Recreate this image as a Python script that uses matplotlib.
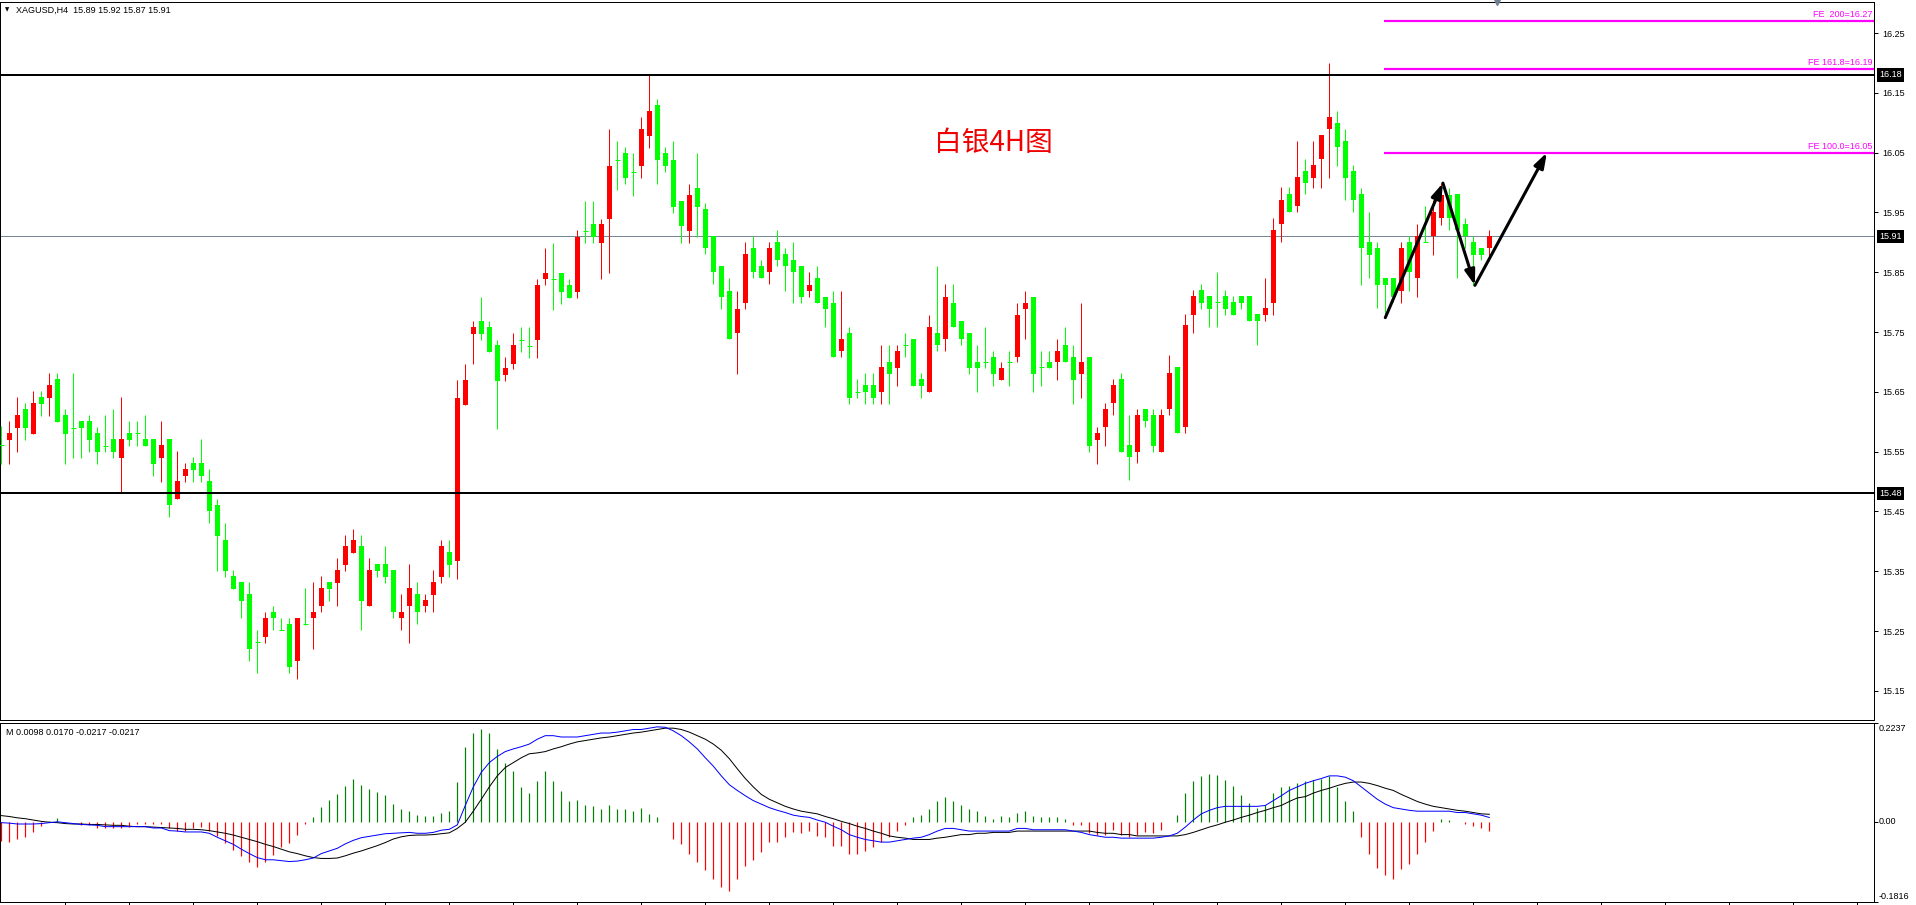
import matplotlib
matplotlib.use('Agg')
import matplotlib.pyplot as plt
import matplotlib.transforms as mtransforms
import numpy as np

# ---------------- data ----------------
opens = [15.561, 15.570, 15.590, 15.621, 15.580, 15.641, 15.640, 15.671, 15.611, 15.590,
         15.601, 15.601, 15.581, 15.560, 15.571, 15.540, 15.581, 15.581, 15.571, 15.571,
         15.540, 15.571, 15.470, 15.510, 15.531, 15.531, 15.501, 15.461, 15.402, 15.342,
         15.332, 15.312, 15.231, 15.240, 15.282, 15.251, 15.262, 15.200, 15.262, 15.271,
         15.291, 15.332, 15.331, 15.361, 15.381, 15.392, 15.291, 15.362, 15.362, 15.352,
         15.271, 15.291, 15.312, 15.291, 15.311, 15.341, 15.382, 15.367, 15.628, 15.747,
         15.768, 15.758, 15.728, 15.678, 15.696, 15.737, 15.727, 15.737, 15.838, 15.838,
         15.849, 15.829, 15.817, 15.919, 15.930, 15.898, 15.939, 16.038, 16.049, 16.018,
         16.027, 16.078, 16.130, 16.049, 16.038, 15.969, 15.919, 15.990, 15.955, 15.911,
         15.860, 15.819, 15.749, 15.799, 15.890, 15.860, 15.850, 15.900, 15.880, 15.870,
         15.860, 15.819, 15.840, 15.809, 15.799, 15.719, 15.749, 15.650, 15.661, 15.661,
         15.650, 15.699, 15.690, 15.729, 15.739, 15.671, 15.650, 15.749, 15.739, 15.799,
         15.769, 15.749, 15.699, 15.699, 15.709, 15.670, 15.699, 15.709, 15.789, 15.809,
         15.691, 15.699, 15.699, 15.729, 15.709, 15.680, 15.709, 15.570, 15.591, 15.631,
         15.672, 15.561, 15.550, 15.622, 15.612, 15.550, 15.621, 15.692, 15.591, 15.779,
         15.821, 15.811, 15.800, 15.811, 15.800, 15.811, 15.811, 15.780, 15.779, 15.799,
         15.930, 15.981, 15.960, 16.019, 16.008, 16.039, 16.089, 16.099, 16.070, 16.019,
         15.981, 15.900, 15.890, 15.840, 15.840, 15.819, 15.900, 15.840, 15.900, 15.910,
         15.940, 15.979, 15.981, 15.930, 15.900, 15.890, 15.890]
highs = [15.592, 15.601, 15.641, 15.631, 15.651, 15.651, 15.681, 15.681, 15.621, 15.681,
         15.601, 15.611, 15.591, 15.611, 15.621, 15.641, 15.601, 15.601, 15.611, 15.571,
         15.601, 15.571, 15.551, 15.531, 15.541, 15.571, 15.521, 15.471, 15.430, 15.352,
         15.332, 15.332, 15.252, 15.282, 15.292, 15.272, 15.272, 15.272, 15.322, 15.332,
         15.342, 15.332, 15.372, 15.410, 15.420, 15.410, 15.372, 15.362, 15.392, 15.352,
         15.312, 15.362, 15.332, 15.312, 15.352, 15.402, 15.402, 15.670, 15.697, 15.768,
         15.809, 15.768, 15.737, 15.709, 15.748, 15.758, 15.758, 15.839, 15.890, 15.899,
         15.849, 15.839, 15.920, 15.969, 15.969, 15.939, 16.089, 16.069, 16.059, 16.049,
         16.109, 16.180, 16.140, 16.059, 16.069, 15.969, 15.998, 16.049, 15.965, 15.911,
         15.860, 15.840, 15.819, 15.900, 15.910, 15.870, 15.900, 15.920, 15.890, 15.900,
         15.860, 15.850, 15.860, 15.809, 15.819, 15.819, 15.759, 15.671, 15.681, 15.681,
         15.729, 15.729, 15.729, 15.749, 15.739, 15.681, 15.779, 15.860, 15.830, 15.830,
         15.769, 15.749, 15.729, 15.759, 15.719, 15.699, 15.719, 15.799, 15.819, 15.809,
         15.719, 15.719, 15.739, 15.759, 15.729, 15.799, 15.709, 15.591, 15.631, 15.672,
         15.682, 15.612, 15.622, 15.622, 15.622, 15.622, 15.711, 15.692, 15.780, 15.821,
         15.830, 15.811, 15.851, 15.821, 15.811, 15.811, 15.811, 15.780, 15.841, 15.941,
         15.992, 15.992, 16.070, 16.040, 16.070, 16.080, 16.199, 16.120, 16.090, 16.030,
         15.990, 15.951, 15.900, 15.840, 15.840, 15.900, 15.910, 15.930, 15.961, 15.970,
         15.999, 15.990, 15.981, 15.940, 15.910, 15.890, 15.920]
lows = [15.530, 15.530, 15.550, 15.570, 15.580, 15.610, 15.610, 15.600, 15.530, 15.540,
        15.540, 15.550, 15.530, 15.550, 15.540, 15.480, 15.560, 15.560, 15.560, 15.510,
        15.500, 15.440, 15.470, 15.500, 15.500, 15.500, 15.430, 15.351, 15.341, 15.321,
        15.271, 15.200, 15.180, 15.230, 15.251, 15.251, 15.180, 15.170, 15.260, 15.220,
        15.281, 15.301, 15.291, 15.351, 15.381, 15.251, 15.291, 15.341, 15.331, 15.271,
        15.251, 15.230, 15.261, 15.281, 15.281, 15.331, 15.341, 15.337, 15.628, 15.696,
        15.737, 15.716, 15.587, 15.668, 15.688, 15.716, 15.707, 15.707, 15.828, 15.787,
        15.797, 15.807, 15.807, 15.898, 15.898, 15.838, 15.848, 15.988, 15.998, 15.978,
        16.007, 16.057, 15.998, 16.018, 15.949, 15.898, 15.898, 15.909, 15.880, 15.830,
        15.789, 15.739, 15.680, 15.789, 15.840, 15.840, 15.830, 15.860, 15.819, 15.799,
        15.799, 15.809, 15.799, 15.759, 15.709, 15.709, 15.630, 15.640, 15.630, 15.630,
        15.630, 15.630, 15.660, 15.709, 15.660, 15.640, 15.650, 15.719, 15.719, 15.759,
        15.729, 15.680, 15.650, 15.690, 15.660, 15.670, 15.660, 15.699, 15.739, 15.650,
        15.660, 15.690, 15.670, 15.699, 15.630, 15.640, 15.550, 15.530, 15.560, 15.611,
        15.550, 15.503, 15.531, 15.591, 15.550, 15.550, 15.611, 15.581, 15.581, 15.749,
        15.789, 15.759, 15.759, 15.779, 15.779, 15.789, 15.769, 15.729, 15.769, 15.779,
        15.900, 15.950, 15.950, 15.980, 15.990, 15.990, 16.008, 16.028, 15.971, 15.950,
        15.829, 15.840, 15.790, 15.779, 15.800, 15.799, 15.819, 15.809, 15.900, 15.879,
        15.929, 15.920, 15.840, 15.890, 15.829, 15.870, 15.870]
closes = [15.561, 15.581, 15.611, 15.590, 15.631, 15.630, 15.661, 15.600, 15.580, 15.590,
          15.590, 15.570, 15.550, 15.560, 15.550, 15.571, 15.570, 15.581, 15.560, 15.530,
          15.561, 15.460, 15.501, 15.521, 15.520, 15.510, 15.450, 15.409, 15.351, 15.321,
          15.301, 15.220, 15.231, 15.272, 15.271, 15.251, 15.190, 15.272, 15.262, 15.282,
          15.322, 15.321, 15.352, 15.392, 15.402, 15.301, 15.352, 15.351, 15.341, 15.281,
          15.282, 15.322, 15.281, 15.302, 15.332, 15.392, 15.361, 15.639, 15.669, 15.758,
          15.747, 15.716, 15.668, 15.690, 15.728, 15.737, 15.727, 15.829, 15.849, 15.838,
          15.817, 15.807, 15.909, 15.919, 15.909, 15.930, 16.028, 16.038, 16.007, 16.018,
          16.089, 16.119, 16.038, 16.027, 15.959, 15.928, 15.979, 15.959, 15.890, 15.850,
          15.809, 15.739, 15.789, 15.880, 15.850, 15.840, 15.890, 15.870, 15.860, 15.850,
          15.809, 15.829, 15.799, 15.789, 15.709, 15.739, 15.640, 15.650, 15.650, 15.640,
          15.691, 15.680, 15.719, 15.729, 15.660, 15.660, 15.759, 15.729, 15.809, 15.759,
          15.739, 15.690, 15.690, 15.699, 15.680, 15.690, 15.699, 15.779, 15.799, 15.680,
          15.691, 15.690, 15.719, 15.699, 15.670, 15.699, 15.560, 15.581, 15.622, 15.662,
          15.550, 15.541, 15.612, 15.601, 15.560, 15.612, 15.682, 15.581, 15.761, 15.811,
          15.799, 15.789, 15.800, 15.789, 15.779, 15.799, 15.769, 15.769, 15.790, 15.921,
          15.971, 15.950, 16.010, 15.999, 16.030, 16.080, 16.109, 16.059, 16.008, 15.970,
          15.890, 15.879, 15.829, 15.829, 15.809, 15.890, 15.850, 15.911, 15.900, 15.951,
          15.979, 15.940, 15.921, 15.910, 15.879, 15.879, 15.910]

# MACD indicator values
macd_blue = [-0.002, -0.003, -0.005, -0.005, -0.005, -0.004, -0.002, 0.000, -0.002, -0.004,
             -0.006, -0.007, -0.008, -0.011, -0.011, -0.011, -0.011, -0.011, -0.011, -0.014,
             -0.014, -0.020, -0.021, -0.023, -0.023, -0.023, -0.026, -0.035, -0.043, -0.051,
             -0.062, -0.072, -0.081, -0.086, -0.086, -0.088, -0.090, -0.089, -0.086, -0.082,
             -0.072, -0.066, -0.060, -0.050, -0.042, -0.036, -0.033, -0.030, -0.027, -0.026,
             -0.025, -0.024, -0.026, -0.026, -0.024, -0.019, -0.017, -0.007, 0.037, 0.079,
             0.112, 0.134, 0.148, 0.159, 0.165, 0.170, 0.176, 0.187, 0.195, 0.195,
             0.192, 0.192, 0.192, 0.195, 0.198, 0.201, 0.201, 0.203, 0.206, 0.209,
             0.209, 0.212, 0.215, 0.214, 0.206, 0.195, 0.181, 0.165, 0.145, 0.126,
             0.104, 0.084, 0.071, 0.059, 0.048, 0.040, 0.032, 0.026, 0.021, 0.015,
             0.012, 0.010, 0.004, -0.001, -0.010, -0.018, -0.029, -0.035, -0.040, -0.043,
             -0.046, -0.046, -0.043, -0.040, -0.037, -0.035, -0.029, -0.021, -0.015, -0.015,
             -0.018, -0.021, -0.021, -0.021, -0.021, -0.021, -0.021, -0.015, -0.015, -0.018,
             -0.018, -0.018, -0.018, -0.018, -0.021, -0.024, -0.029, -0.032, -0.035, -0.035,
             -0.037, -0.037, -0.037, -0.037, -0.037, -0.035, -0.032, -0.026, -0.012, 0.004,
             0.018, 0.026, 0.032, 0.035, 0.035, 0.035, 0.035, 0.035, 0.037, 0.048,
             0.059, 0.071, 0.079, 0.087, 0.093, 0.098, 0.104, 0.104, 0.101, 0.093,
             0.079, 0.065, 0.051, 0.040, 0.032, 0.029, 0.026, 0.024, 0.024, 0.024,
             0.024, 0.024, 0.021, 0.021, 0.018, 0.015, 0.0098]
macd_black = [0.014, 0.012, 0.009, 0.007, 0.004, 0.001, -0.001, -0.002, -0.004, -0.005,
              -0.005, -0.006, -0.006, -0.007, -0.008, -0.008, -0.010, -0.011, -0.011, -0.012,
              -0.013, -0.014, -0.015, -0.017, -0.017, -0.018, -0.020, -0.023, -0.026, -0.030,
              -0.035, -0.040, -0.045, -0.051, -0.056, -0.062, -0.068, -0.072, -0.077, -0.081,
              -0.083, -0.083, -0.082, -0.077, -0.071, -0.066, -0.060, -0.054, -0.047, -0.039,
              -0.034, -0.031, -0.030, -0.030, -0.029, -0.027, -0.025, -0.015, -0.001, 0.024,
              0.051, 0.079, 0.104, 0.123, 0.134, 0.145, 0.154, 0.156, 0.159, 0.165,
              0.170, 0.176, 0.181, 0.184, 0.187, 0.190, 0.192, 0.195, 0.198, 0.201,
              0.203, 0.206, 0.209, 0.212, 0.212, 0.209, 0.203, 0.195, 0.187, 0.176,
              0.162, 0.143, 0.120, 0.098, 0.079, 0.062, 0.051, 0.043, 0.035, 0.029,
              0.024, 0.021, 0.018, 0.012, 0.007, 0.001, -0.004, -0.010, -0.015, -0.021,
              -0.026, -0.032, -0.035, -0.037, -0.040, -0.040, -0.040, -0.037, -0.035, -0.032,
              -0.029, -0.029, -0.026, -0.026, -0.024, -0.024, -0.024, -0.021, -0.021, -0.021,
              -0.021, -0.021, -0.021, -0.021, -0.021, -0.021, -0.021, -0.024, -0.026, -0.026,
              -0.029, -0.029, -0.032, -0.032, -0.032, -0.032, -0.032, -0.032, -0.029, -0.024,
              -0.018, -0.012, -0.007, -0.001, 0.004, 0.010, 0.015, 0.021, 0.026, 0.032,
              0.037, 0.046, 0.054, 0.057, 0.065, 0.071, 0.076, 0.082, 0.087, 0.090,
              0.090, 0.087, 0.082, 0.076, 0.071, 0.062, 0.054, 0.046, 0.040, 0.035,
              0.032, 0.029, 0.026, 0.024, 0.021, 0.018, 0.017]
macd_hist = [-0.043, -0.045, -0.0385, -0.034, -0.0227, -0.009, 0.001, 0.008, 0.000, 0.000,
             -0.007, -0.008, -0.015, -0.015, -0.015, -0.013, -0.011, -0.004, -0.004, -0.006,
             -0.006, -0.015, -0.020, -0.020, -0.015, -0.011, -0.020, -0.033, -0.047, -0.063,
             -0.077, -0.091, -0.102, -0.092, -0.075, -0.056, -0.048, -0.030, -0.005, 0.011,
             0.033, 0.050, 0.063, 0.081, 0.097, 0.083, 0.074, 0.067, 0.060, 0.040,
             0.030, 0.025, 0.015, 0.012, 0.013, 0.020, 0.025, 0.090, 0.170, 0.200,
             0.210, 0.200, 0.165, 0.134, 0.115, 0.079, 0.065, 0.093, 0.115, 0.093,
             0.070, 0.048, 0.050, 0.037, 0.035, 0.030, 0.037, 0.029, 0.029, 0.024,
             0.032, 0.018, 0.010, 0.000, -0.040, -0.050, -0.073, -0.090, -0.110, -0.130,
             -0.148, -0.156, -0.129, -0.100, -0.087, -0.068, -0.046, -0.046, -0.035, -0.024,
             -0.026, -0.021, -0.032, -0.035, -0.054, -0.054, -0.073, -0.073, -0.065, -0.057,
             -0.046, -0.035, -0.021, -0.007, 0.010, 0.015, 0.030, 0.046, 0.057, 0.048,
             0.037, 0.029, 0.024, 0.012, 0.007, 0.012, 0.010, 0.021, 0.024, 0.012,
             0.010, 0.010, 0.010, 0.007, -0.007, -0.007, -0.026, -0.029, -0.029, -0.018,
             -0.029, -0.035, -0.029, -0.024, -0.026, -0.018, 0.000, 0.015, 0.065, 0.093,
             0.104, 0.109, 0.107, 0.095, 0.082, 0.060, 0.043, 0.032, 0.037, 0.065,
             0.079, 0.082, 0.087, 0.093, 0.095, 0.098, 0.104, 0.079, 0.048, 0.024,
             -0.035, -0.073, -0.104, -0.120, -0.129, -0.107, -0.095, -0.073, -0.046, -0.021,
             0.007, 0.004, 0.000, -0.004, -0.010, -0.015, -0.0217]

price_ticks = [15.15, 15.25, 15.35, 15.45, 15.55, 15.65, 15.75, 15.85, 15.95, 16.05, 16.15, 16.25]
support_resistance = [16.18, 15.48]
current_price = 15.91
fe_levels = [16.27, 16.19, 16.05]
fe_labels = ['FE  200=16.27', 'FE 161.8=16.19', 'FE 100.0=16.05']
fe_start_bar = 172.8
arrow_path = [(173.0, 15.774), (180.2, 15.999), (184.2, 15.828), (193.2, 16.050)]
macd_range = (-0.1816, 0.2237)
macd_tick_labels = ['0.2237', '0.00', '-0.1816']
header = 'XAGUSD,H4  15.89 15.92 15.87 15.91'
macd_header = 'M 0.0098 0.0170 -0.0217 -0.0217'
title_cn = '白银4H图'

# ---------------- figure ----------------
W, H = 1916, 905
fig = plt.figure(figsize=(W / 100, H / 100), dpi=100)
fig.patch.set_facecolor('white')
plt.rcParams['font.family'] = ['Liberation Sans', 'DejaVu Sans']

def fx(px):
    return px / W

def fy(py):
    return 1 - py / H

PX = 0.72  # one pixel in points
RIGHT = 1874
ax = fig.add_axes([0, fy(720), fx(RIGHT), (720 - 2) / H])
axm = fig.add_axes([0, fy(902), fx(RIGHT), (902 - 723) / H])

def px_to_bar(px):
    return (px - 1.3) / 8.0

xlim = (px_to_bar(0), px_to_bar(RIGHT))
ax.set_xlim(*xlim)
axm.set_xlim(*xlim)
ax.set_ylim(16.25 - (720 - 33) / 598.0, 16.25 + (33 - 2) / 598.0)
axm.set_ylim(*macd_range)

RED = '#FF0000'
GREEN = '#00FF00'

o = np.array(opens); h = np.array(highs); l = np.array(lows); c = np.array(closes)
idx = np.arange(len(o))
bull = c > o
cols = np.where(bull, RED, GREEN)
ax.vlines(idx, l, h, colors=cols, lw=PX, zorder=3)
bot = np.minimum(o, c)
bh = np.abs(c - o)
ax.bar(idx, bh, bottom=bot, width=0.625, color=cols, linewidth=0, zorder=4)
doji = bh < 0.003
ax.hlines(o[doji], idx[doji] - 0.35, idx[doji] + 0.35, colors=cols[doji], lw=PX, zorder=4)

for lev in support_resistance:
    ax.axhline(lev, color='black', lw=2 * PX, zorder=5)
ax.axhline(current_price, color='#778899', lw=PX, zorder=2)

xr = xlim[1]
for lev, lab in zip(fe_levels, fe_labels):
    ax.hlines(lev, fe_start_bar, xr, colors='#FF00FF', lw=2.2 * PX, zorder=5)
    ax.annotate(lab, xy=(xr, lev), xytext=(-1, 1.5), textcoords='offset points',
                ha='right', va='bottom', color='#FF00FF', fontsize=6.5)

for (x0, y0), (x1, y1) in zip(arrow_path[:-1], arrow_path[1:]):
    ax.annotate('', xy=(x1, y1), xytext=(x0, y0),
                arrowprops=dict(arrowstyle='-|>,head_length=0.9,head_width=0.3',
                                color='black', lw=2.2, shrinkA=0, shrinkB=0),
                zorder=6)

# right price axis
ax.yaxis.tick_right()
ax.set_yticks(price_ticks)
ax.set_yticklabels(['%.2f' % t for t in price_ticks])
ax.tick_params(axis='y', direction='out', length=3, width=PX, pad=3, labelsize=6.5,
               colors='black')
ax.set_xticks([])
for s in ax.spines.values():
    s.set_linewidth(PX)

trans = mtransforms.blended_transform_factory(ax.transAxes, ax.transData)
for lev in support_resistance + [current_price]:
    ax.annotate('%.2f' % lev, xy=(1.0, lev), xycoords=trans, xytext=(4, 0),
                textcoords='offset points', ha='left', va='center', color='white',
                fontsize=6.5, annotation_clip=False,
                bbox=dict(boxstyle='square,pad=0.25', facecolor='black', edgecolor='none'))

# top marker (chart shift)
ax.plot([0.799], [1.0], transform=ax.transAxes, marker='v', ms=5, color='#708090',
        clip_on=False, zorder=7)

# header text
fig.text(fx(5), fy(10), '\u25BC', fontsize=4, va='center', ha='left', color='black',
         family='DejaVu Sans')
fig.text(fx(16), fy(10), header, fontsize=6.5, va='center', ha='left', color='black')

# Chinese title
fig.text(fx(993), fy(143), title_cn, fontsize=20, color='#F00000', ha='center', va='center',
         family=['Noto Sans CJK SC', 'DejaVu Sans'])

# ---------------- MACD panel ----------------
hist = np.array(macd_hist)
hcols = np.where(hist >= 0, '#008000', RED)
axm.vlines(idx, 0, hist, colors=hcols, lw=PX * 1.2)
axm.plot(idx, macd_black, color='black', lw=PX)
axm.plot(idx, macd_blue, color='#0000FF', lw=PX)
axm.set_yticks([macd_range[1], 0.0, macd_range[0]])
axm.set_yticklabels([])
axm.yaxis.tick_right()
axm.tick_params(axis='y', direction='out', length=3, width=PX)
axm.set_xticks(np.arange(8, xlim[1], 8))
axm.set_xticklabels([])
axm.tick_params(axis='x', direction='out', length=3, width=PX)
for s in axm.spines.values():
    s.set_linewidth(PX)
tm = mtransforms.blended_transform_factory(axm.transAxes, axm.transData)
axm.annotate(macd_tick_labels[0], xy=(1.0, macd_range[1]), xycoords=tm, xytext=(3, -1),
             textcoords='offset points', ha='left', va='top', fontsize=6.5, annotation_clip=False)
axm.annotate(macd_tick_labels[1], xy=(1.0, 0.0), xycoords=tm, xytext=(3, 0),
             textcoords='offset points', ha='left', va='center', fontsize=6.5, annotation_clip=False)
axm.annotate(macd_tick_labels[2], xy=(1.0, macd_range[0]), xycoords=tm, xytext=(3, 1),
             textcoords='offset points', ha='left', va='bottom', fontsize=6.5, annotation_clip=False)
fig.text(fx(6), fy(732), macd_header, fontsize=6.5, va='center', ha='left', color='black')

fig.savefig('out.png', dpi=100, facecolor='white')
